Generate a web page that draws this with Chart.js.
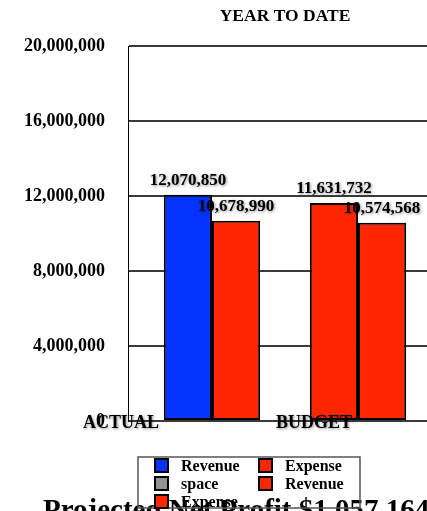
<!DOCTYPE html>
<html>
<head>
<meta charset="utf-8">
<script src="https://cdn.jsdelivr.net/npm/chart.js@4.4.1/dist/chart.umd.min.js"></script>
<style>
  html, body { margin: 0; padding: 0; overflow: hidden; background: #fff; }
  canvas { display: block; }
</style>
</head>
<body>
<canvas id="ytd" width="442" height="511"></canvas>
<script>
// ---- data ----
const categories = ['ACTUAL', 'BUDGET'];
const revenue = [12070850, 11631732];
const expense = [10678990, 10574568];
const legendNames = ['Revenue', 'Expense', 'space', 'Revenue', 'Expense'];
const yTicks = [0, 4000000, 8000000, 12000000, 16000000, 20000000];
const chartTitle = 'YEAR TO DATE';
const profitCaption = 'Projected Net Profit $';

// ---- look ----
const BLUE = '#0433FF';
const RED = '#FF2600';
const GRAY = '#929292';
const SERIF = '"Liberation Serif", "Times New Roman", serif';
const revenueColors = [BLUE, RED];
const legendColors = [BLUE, RED, GRAY, RED, RED];
const catLabelShift = [-91, -44];   // category captions sit left of their bar pairs

Chart.defaults.font.family = SERIF;
Chart.defaults.color = '#000';

const fmt = v => Number(v).toLocaleString('en-US');
const toPoints = arr => arr.map((v, i) => ({ x: i, y: v }));

const barStyle = {
  borderColor: '#000',
  borderWidth: 2,
  borderSkipped: false,
  categoryPercentage: 0.66,
  barPercentage: 1
};

const datasets = [
  Object.assign({ label: 'Revenue', data: toPoints(revenue), backgroundColor: revenueColors }, barStyle),
  Object.assign({ label: 'Expense', data: toPoints(expense), backgroundColor: RED }, barStyle)
];

// title centred over the plot
const titlePlugin = {
  id: 'ytdTitle',
  afterDraw(chart) {
    const { ctx, chartArea } = chart;
    ctx.save();
    ctx.font = 'bold 17.5px ' + SERIF;
    ctx.fillStyle = '#000';
    ctx.textAlign = 'center';
    ctx.textBaseline = 'alphabetic';
    ctx.fillText(chartTitle, (chartArea.left + chartArea.right) / 2, 21);
    ctx.restore();
  }
};

// value captions above each bar, and category captions along the base
const labelPlugin = {
  id: 'ytdLabels',
  afterDatasetsDraw(chart) {
    const { ctx, scales } = chart;
    ctx.save();
    ctx.shadowColor = 'rgba(0,0,0,0.45)';
    ctx.shadowBlur = 3;
    ctx.shadowOffsetX = 1;
    ctx.shadowOffsetY = 1;
    ctx.fillStyle = '#000';
    ctx.textAlign = 'center';
    ctx.textBaseline = 'alphabetic';
    ctx.font = 'bold 17px ' + SERIF;
    chart.data.datasets.forEach((ds, di) => {
      const meta = chart.getDatasetMeta(di);
      meta.data.forEach((bar, i) => {
        ctx.fillText(fmt(ds.data[i].y), bar.x, bar.y - 10);
      });
    });
    ctx.font = 'bold 18px ' + SERIF;
    const base = scales.y.getPixelForValue(0);
    categories.forEach((c, i) => {
      ctx.fillText(c, scales.x.getPixelForValue(i) + catLabelShift[i], base + 7);
    });
    ctx.restore();
  }
};

// profit caption and boxed two-column legend at the foot
const footPlugin = {
  id: 'ytdFoot',
  afterDraw(chart) {
    const { ctx } = chart;
    ctx.save();
    const profit = revenue[1] - expense[1];
    ctx.font = 'bold 29px ' + SERIF;
    ctx.fillStyle = '#000';
    ctx.textAlign = 'left';
    ctx.textBaseline = 'alphabetic';
    ctx.fillText(profitCaption + fmt(profit), 43, 519);

    const box = { left: 138, top: 457, width: 222, height: 51 };
    ctx.strokeStyle = '#555';
    ctx.lineWidth = 1.5;
    ctx.strokeRect(box.left, box.top, box.width, box.height);

    ctx.font = 'bold 16px ' + SERIF;
    legendNames.forEach((name, i) => {
      const col = i % 2, row = Math.floor(i / 2);
      const sx = box.left + 16 + col * 104;
      const sy = box.top + 1 + row * 18;
      ctx.fillStyle = legendColors[i];
      ctx.fillRect(sx, sy, 15, 15);
      ctx.strokeStyle = '#000';
      ctx.lineWidth = 2;
      ctx.strokeRect(sx + 1, sy + 1, 13, 13);
      ctx.fillStyle = '#000';
      ctx.fillText(name, box.left + 43 + col * 104, box.top + 14 + row * 18);
    });
    ctx.restore();
  }
};

new Chart(document.getElementById('ytd'), {
  type: 'bar',
  data: { datasets },
  plugins: [titlePlugin, labelPlugin, footPlugin],
  options: {
    responsive: false,
    animation: false,
    devicePixelRatio: 1,
    layout: { padding: { top: 46, bottom: 90, left: 0, right: 0 } },
    plugins: { legend: { display: false }, tooltip: { enabled: false } },
    scales: {
      x: {
        type: 'linear',
        min: -0.575,
        max: 1.575,
        display: false,
        offset: false,
        // one tick per category so bar widths follow the category spacing
        afterBuildTicks(scale) { scale.ticks = categories.map((c, i) => ({ value: i })); }
      },
      y: {
        min: 0,
        max: 20000000,
        afterFit(scale) { scale.width = 128; },
        afterBuildTicks(scale) { scale.ticks = yTicks.map(v => ({ value: v })); },
        border: { display: true, color: '#000', width: 1 },
        grid: { color: '#3a3a3a', lineWidth: 2, drawTicks: false },
        ticks: {
          padding: 23,
          font: { size: 18, weight: 'bold' },
          color: '#000',
          callback: v => fmt(v)
        }
      }
    }
  }
});
</script>
</body>
</html>
